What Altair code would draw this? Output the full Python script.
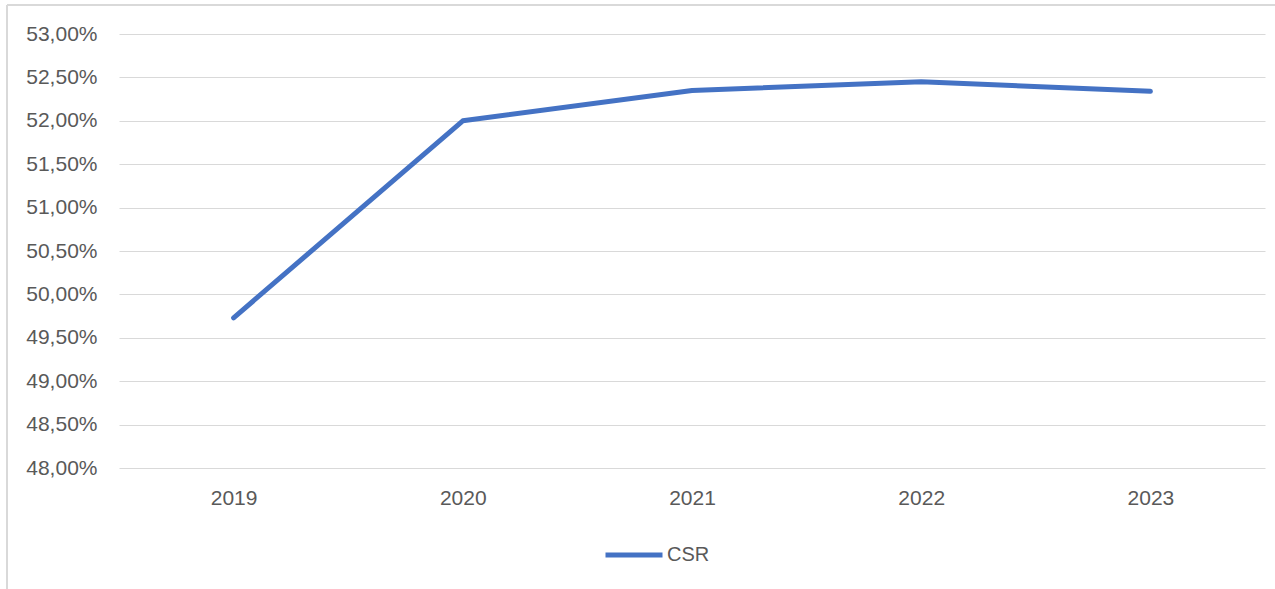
import altair as alt
import pandas as pd

years = ["2019", "2020", "2021", "2022", "2023"]
csr = [0.4973, 0.5200, 0.5235, 0.5245, 0.5234]
series = ["CSR"] * len(years)

df = pd.DataFrame({"year": years, "value": csr, "series": series})

GRID = "#d9d9d9"
TXT = "#595959"
FONT = "Liberation Sans"
FS = 21

line = alt.Chart(df).mark_line(strokeWidth=5, strokeCap="round", strokeJoin="round").encode(
    x=alt.X("year:O", title=None,
            scale=alt.Scale(padding=0.5),
            axis=alt.Axis(labelAngle=0, ticks=False, domain=False, grid=False,
                          labelPadding=19, labelFontSize=FS, labelColor=TXT, labelFont=FONT)),
    y=alt.Y("value:Q", title=None,
            scale=alt.Scale(domain=[0.48, 0.53], nice=False, zero=False),
            axis=alt.Axis(values=[0.48 + 0.005 * i for i in range(11)],
                          labelExpr="replace(format(datum.value, '.2%'), '.', ',')",
                          ticks=False, domain=False, grid=True, gridColor=GRID, gridWidth=1,
                          labelPadding=22, labelFontSize=FS, labelColor=TXT, labelFont=FONT)),
    color=alt.Color("series:N", title=None,
                    scale=alt.Scale(range=["#4472C4"]),
                    legend=alt.Legend(orient="none", legendX=484, legendY=56 + 434,
                                      symbolType="stroke", symbolSize=3249, symbolStrokeWidth=5,
                                      labelFontSize=FS - 1, labelColor=TXT, labelFont=FONT,
                                      labelOffset=2)),
)

border_top = alt.Chart(df).mark_rule(color=GRID, strokeWidth=2).encode(
    x=alt.value(-112), x2=alt.value(1160), y=alt.value(-29)
)
border_left = alt.Chart(df).mark_rule(color=GRID, strokeWidth=2).encode(
    x=alt.value(-112), y=alt.value(-29), y2=alt.value(560)
)

chart = alt.layer(border_top, border_left, line).properties(
    width=1146, height=434,
    autosize=alt.AutoSizeParams(type="none"),
    padding={"left": 119, "top": 34, "right": 10, "bottom": 121},
    background="white",
).configure_view(stroke=None)

chart.save("out.html", embed_options={"renderer": "svg", "actions": False})
